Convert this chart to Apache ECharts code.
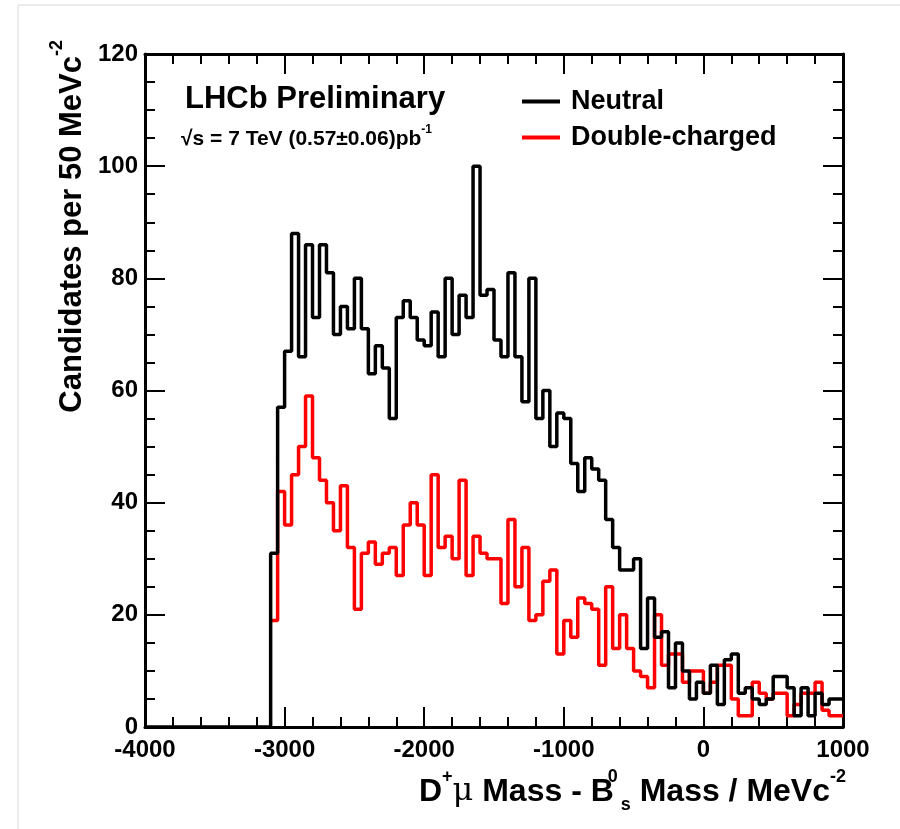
<!DOCTYPE html>
<html style="height: 100%">
<head>
<meta charset="utf-8">
<script src="https://cdn.jsdelivr.net/npm/echarts@6/dist/echarts.min.js"></script>
</head>
<body style="height: 100%; margin: 0; background: #fff">
<div id="container" style="width: 900px; height: 829px;"></div>
<script type="text/javascript">
// bins of 50 MeV starting at -3100
var binStart = -3100;
var binWidth = 50;
var neutral = [31, 57, 67, 88, 66, 86, 73, 86, 81, 70,
	75, 71, 80, 71, 63, 68, 64, 55, 73, 76,
	73, 69, 68, 74, 66, 80, 70, 77, 73, 100,
	77, 78, 69, 66, 81, 66, 58, 80, 55, 60,
	50, 56, 55, 47, 42, 48, 46, 44, 37, 32,
	28, 28, 30, 14, 23, 16, 17, 7, 15, 10,
	5, 8, 6, 11, 4, 12, 13, 6, 7, 5,
	4, 5, 9, 9, 7, 2, 7, 2, 6, 4,
	5, 5];
var doubleCharged = [19, 42, 36, 45, 50, 59, 48, 44, 40, 35,
	43, 32, 21, 31, 33, 29, 31, 32, 27, 36,
	40, 36, 27, 45, 32, 34, 30, 44, 27, 34,
	31, 30, 30, 22, 37, 25, 32, 19, 20, 26,
	28, 13, 19, 16, 23, 22, 21, 11, 25, 14,
	20, 14, 10, 9, 7, 20, 11, 13, 13, 8,
	10, 10, 6, 8, 11, 11, 5, 2, 2, 8,
	6, 5, 6, 6, 2, 4, 6, 6, 8, 3,
	2, 2];
var xTicks = [-4000, -3000, -2000, -1000, 0, 1000];
var yTicks = [0, 20, 40, 60, 80, 100, 120];

var FONT = 'Liberation Sans, Arial, sans-serif';

function histo(vals, startAtZero) {
	var pts = [];
	if (startAtZero) pts.push([xTicks[0], 0]);
	for (var i = 0; i < vals.length; i++) {
		pts.push([binStart + i * binWidth, vals[i]]);
	}
	pts.push([binStart + vals.length * binWidth, vals[vals.length - 1]]);
	return pts;
}

var dom = document.getElementById("container");
var myChart = echarts.init(dom);

function xAx(pos, labels) {
	return {
		type : 'value',
		position : pos,
		min : xTicks[0],
		max : xTicks[xTicks.length - 1],
		interval : 1000,
		axisLine : { show : true, onZero : false, lineStyle : { color : '#000', width : 3 } },
		axisTick : { show : true, inside : true, length : 20, lineStyle : { color : '#000', width : 2 } },
		minorTick : { show : true, splitNumber : 5, length : 10, lineStyle : { color : '#000', width : 2 } },
		splitLine : { show : false },
		axisLabel : {
			show : labels,
			margin : 11,
			color : '#000',
			fontSize : 24,
			fontWeight : 'bold',
			fontFamily : FONT,
			showMinLabel : true,
			showMaxLabel : true,
			formatter : function(v) { return xTicks.indexOf(v) >= 0 ? String(v) : ''; }
		}
	};
}
function yAx(pos, labels) {
	return {
		type : 'value',
		position : pos,
		min : yTicks[0],
		max : yTicks[yTicks.length - 1],
		interval : 20,
		axisLine : { show : true, onZero : false, lineStyle : { color : '#000', width : 3 } },
		axisTick : { show : true, inside : true, length : 20, lineStyle : { color : '#000', width : 2 } },
		minorTick : { show : true, splitNumber : 4, length : 10, lineStyle : { color : '#000', width : 2 } },
		splitLine : { show : false },
		axisLabel : {
			show : labels,
			margin : 7,
			color : '#000',
			fontSize : 24,
			fontWeight : 'bold',
			fontFamily : FONT,
			formatter : function(v) { return yTicks.indexOf(v) >= 0 ? String(v) : ''; }
		}
	};
}

var option = {
	animation : false,
	backgroundColor : '#fff',
	grid : { left : 145, right : 57, top : 54, bottom : 102 },
	xAxis : [ xAx('bottom', true), xAx('top', false) ],
	yAxis : [ yAx('left', true), yAx('right', false) ],
	legend : {
		orient : 'vertical',
		left : 517,
		top : 83,
		itemGap : 9,
		itemWidth : 38,
		itemHeight : 4,
		icon : 'rect',
		textStyle : { fontSize : 27, fontWeight : 'bold', fontFamily : FONT, color : '#000', padding : [0, 0, 0, 6] },
		data : [ 'Neutral', 'Double-charged' ]
	},
	series : [ {
		name : 'Double-charged',
		type : 'line',
		step : 'end',
		symbol : 'none',
		z : 2,
		color : '#ff0000',
		lineStyle : { color : '#ff0000', width : 3.5 },
		data : histo(doubleCharged, false)
	}, {
		name : 'Neutral',
		type : 'line',
		step : 'end',
		symbol : 'none',
		z : 3,
		color : '#000',
		lineStyle : { color : '#000', width : 3.5 },
		data : histo(neutral, true)
	} ],
	graphic : [ {
		type : 'line',
		shape : { x1 : 18, y1 : 5, x2 : 18, y2 : 829 },
		style : { stroke : '#d9d9d9', lineWidth : 1 }
	}, {
		type : 'line',
		shape : { x1 : 18, y1 : 5, x2 : 900, y2 : 5 },
		style : { stroke : '#d9d9d9', lineWidth : 1 }
	}, {
		type : 'text',
		left : 185,
		top : 84,
		style : { text : 'LHCb Preliminary', fontSize : 31, fontWeight : 'bold', fontFamily : FONT, fill : '#000' }
	}, {
		type : 'text',
		left : 181,
		top : 124,
		style : {
			text : '{m|√s = 7 TeV (0.57±0.06)pb}{sp|-1}',
			fill : '#000',
			rich : {
				m : { fontSize : 21, fontWeight : 'bold', fontFamily : FONT, verticalAlign : 'bottom', padding : [5, 0, 0, 0] },
				sp : { fontSize : 12, fontWeight : 'bold', fontFamily : FONT, verticalAlign : 'top' }
			}
		}
	}, {
		type : 'text',
		x : 68,
		y : 40,
		rotation : Math.PI / 2,
		style : {
			text : '{m|Candidates per 50 MeVc}{sp|-2}',
			align : 'right',
			verticalAlign : 'middle',
			fill : '#000',
			rich : {
				m : { fontSize : 31, fontWeight : 'bold', fontFamily : FONT, verticalAlign : 'bottom', padding : [8, 0, 0, 0] },
				sp : { fontSize : 18, fontWeight : 'bold', fontFamily : FONT, verticalAlign : 'top' }
			}
		}
	}, {
		type : 'text',
		x : 846,
		y : 791,
		style : {
			text : '{m|D}{sp|+}{mu|μ}{m| Mass - B}{z|0}{sb|s}{m| Mass / MeVc}{sp|-2}',
			align : 'right',
			verticalAlign : 'middle',
			fill : '#000',
			rich : {
				m : { fontSize : 32, fontWeight : 'bold', fontFamily : FONT, verticalAlign : 'top', padding : [8, 0, 0, 0] },
				mu : { fontSize : 32, fontWeight : 'normal', fontFamily : 'DejaVu Serif, serif', verticalAlign : 'top', padding : [8, 0, 0, 0] },
				sp : { fontSize : 18, fontWeight : 'bold', fontFamily : FONT, verticalAlign : 'top' },
				z : { fontSize : 18, fontWeight : 'bold', fontFamily : FONT, verticalAlign : 'top', width : 1, padding : [0, 0, 0, 3] },
				sb : { fontSize : 18, fontWeight : 'bold', fontFamily : FONT, verticalAlign : 'bottom', padding : [28, 0, 0, 3] }
			}
		}
	} ]
};
myChart.setOption(option, true);
</script>
</body>
</html>
